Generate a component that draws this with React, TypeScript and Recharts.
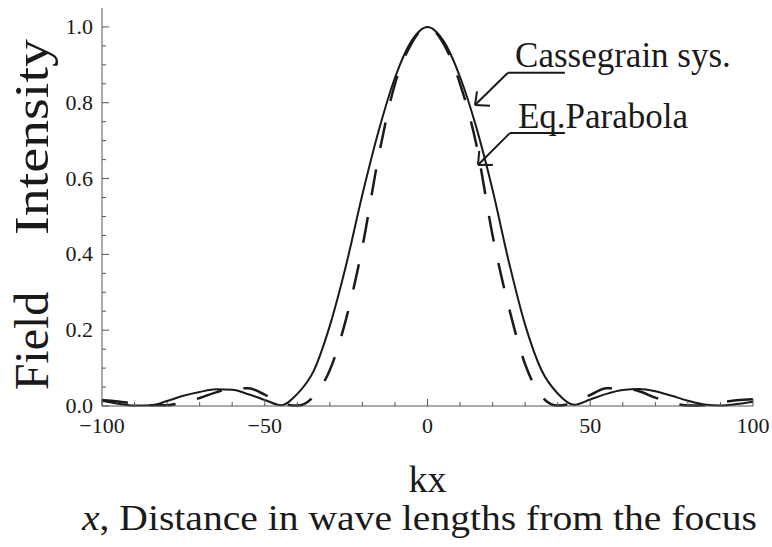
import React from "react";
import { LineChart, Line, XAxis, YAxis, ReferenceLine, ReferenceDot } from "recharts";

// kx positions, read every 5 units
const kx = [
  -100, -95, -90, -85, -80, -75, -70, -65, -60, -55, -50, -45, -40, -35, -30, -25, -20, -15, -10, -5,
  0, 5, 10, 15, 20, 25, 30, 35, 40, 45, 50, 55, 60, 65, 70, 75, 80, 85, 90, 95, 100,
];

// solid curve (Cassegrain sys.)
const cassegrain = [
  0.014, 0.006, 0.001, 0.002, 0.013, 0.027, 0.037, 0.044, 0.043, 0.031, 0.016, 0.002, 0.032, 0.092, 0.212, 0.372, 0.558, 0.726, 0.866, 0.962,
  1.0, 0.962, 0.868, 0.735, 0.57, 0.38, 0.214, 0.095, 0.033, 0.003, 0.017, 0.032, 0.042, 0.045, 0.039, 0.027, 0.014, 0.004, 0.001, 0.005, 0.011,
];

// dashed curve (Eq. Parabola)
const eqParabola = [
  0.016, 0.012, 0.006, 0.002, 0.002, 0.01, 0.021, 0.036, 0.047, 0.047, 0.03, 0.008, 0.001, 0.025, 0.095, 0.23, 0.42, 0.66, 0.85, 0.955,
  1.0, 0.955, 0.85, 0.69, 0.45, 0.26, 0.11, 0.026, 0.001, 0.009, 0.029, 0.047, 0.047, 0.039, 0.022, 0.009, 0.001, 0.002, 0.009, 0.015, 0.018,
];

const xTicks = [-100, -90, -80, -70, -60, -50, -40, -30, -20, -10, 0, 10, 20, 30, 40, 50, 60, 70, 80, 90, 100];
const xLabels = [-100, -50, 0, 50, 100];
const yTicks = [
  0, 0.05, 0.1, 0.15, 0.2, 0.25, 0.3, 0.35, 0.4, 0.45, 0.5, 0.55, 0.6, 0.65, 0.7, 0.75, 0.8, 0.85, 0.9, 0.95, 1.0,
];
const yLabels = [0, 0.2, 0.4, 0.6, 0.8, 1.0];

const rows = kx.map((x, i) => ({ x, cass: cassegrain[i], para: eqParabola[i] }));

const FONT = '"Liberation Serif", "Times New Roman", serif';
const INK = "#1a1a1a";
const FRAME = "#555";
const serif = { fontFamily: FONT };

const isMajor = (v: number, list: number[]) => list.some((l) => Math.abs(l - v) < 1e-6);
const fmtX = (v: number) => (v < 0 ? "\u2212" + Math.abs(v) : String(v));

function BottomTick({ x, y, payload }: any) {
  const major = isMajor(payload.value, xLabels);
  return (
    <g>
      <line x1={x} x2={x} y1={y} y2={y - (major ? 7 : 4)} stroke={FRAME} />
      {major && (
        <text x={x} y={y + 27} textAnchor="middle" style={serif} fontSize={22} fill={INK}>
          {fmtX(payload.value)}
        </text>
      )}
    </g>
  );
}

function TopTick({ x, y, payload }: any) {
  const major = isMajor(payload.value, xLabels);
  return <line x1={x} x2={x} y1={y} y2={y + (major ? 7 : 4)} stroke={FRAME} />;
}

function LeftTick({ x, y, payload }: any) {
  const major = isMajor(payload.value, yLabels);
  return (
    <g>
      <line x1={x} x2={x + (major ? 7 : 4)} y1={y} y2={y} stroke={FRAME} />
      {major && (
        <text x={x - 9} y={y + 7} textAnchor="end" style={serif} fontSize={22} fill={INK}>
          {payload.value.toFixed(1)}
        </text>
      )}
    </g>
  );
}

function RightTick({ x, y, payload }: any) {
  const major = isMajor(payload.value, yLabels);
  return <line x1={x} x2={x - (major ? 7 : 4)} y1={y} y2={y} stroke={FRAME} />;
}

function XTitle({ viewBox }: any) {
  const { x, y, width } = viewBox;
  return (
    <g style={serif} fill={INK}>
      <text x={x + width / 2} y={y + 86} textAnchor="middle" fontSize={38}>
        kx
      </text>
      <text x={x - 20} y={y + 124} fontSize={36} textLength={675} lengthAdjust="spacingAndGlyphs">
        <tspan fontStyle="italic">x</tspan>, Distance in wave lengths from the focus
      </text>
    </g>
  );
}

function YTitle() {
  return (
    <g style={serif} fill={INK} fontSize={48}>
      <text x={48} y={341} textAnchor="middle" transform="rotate(-90 48 341)">
        Field
      </text>
      <text
        x={48}
        y={137}
        textAnchor="middle"
        transform="rotate(-90 48 137)"
        textLength={196}
        lengthAdjust="spacingAndGlyphs"
      >
        Intensity
      </text>
    </g>
  );
}

const note = (label: string) => (p: any) =>
  (
    <text x={p.cx} y={p.cy} style={serif} fontSize={35} fill={INK}>
      {label}
    </text>
  );

export default function App() {
  return (
    <div style={{ position: "absolute", left: 0, top: 0, width: 772, height: 547, background: "#fff" }}>
      <LineChart width={772} height={547} data={rows} margin={{ top: 8, right: 19, bottom: 0, left: 0 }}>
        <XAxis
          dataKey="x"
          type="number"
          domain={[-100, 100]}
          ticks={xTicks}
          interval={0}
          height={141}
          tickSize={0}
          tickMargin={0}
          tickLine={false}
          axisLine={{ stroke: FRAME }}
          tick={<BottomTick />}
          label={<XTitle />}
        />
        <XAxis
          xAxisId="top"
          orientation="top"
          type="number"
          domain={[-100, 100]}
          ticks={xTicks}
          interval={0}
          height={0}
          tickSize={0}
          tickMargin={0}
          tickLine={false}
          axisLine={{ stroke: FRAME }}
          tick={<TopTick />}
        />
        <YAxis
          type="number"
          domain={[0, 1.05]}
          ticks={yTicks}
          interval={0}
          width={102}
          tickSize={0}
          tickMargin={0}
          tickLine={false}
          axisLine={{ stroke: FRAME }}
          tick={<LeftTick />}
          label={<YTitle />}
        />
        <YAxis
          yAxisId="right"
          orientation="right"
          type="number"
          domain={[0, 1.05]}
          ticks={yTicks}
          interval={0}
          width={0}
          tickSize={0}
          tickMargin={0}
          tickLine={false}
          axisLine={{ stroke: FRAME }}
          tick={<RightTick />}
        />

        <Line
          dataKey="cass"
          type="monotone"
          stroke={INK}
          strokeWidth={2}
          dot={false}
          isAnimationActive={false}
        />
        <Line
          dataKey="para"
          type="monotone"
          stroke={INK}
          strokeWidth={2.5}
          strokeDasharray="26 22"
          dot={false}
          isAnimationActive={false}
        />

        {/* annotation arrows */}
        <ReferenceLine segment={[{ x: 24.7, y: 0.879 }, { x: 42.2, y: 0.879 }]} stroke={INK} strokeWidth={2} />
        <ReferenceLine segment={[{ x: 24.7, y: 0.879 }, { x: 14.6, y: 0.794 }]} stroke={INK} strokeWidth={2} />
        <ReferenceLine segment={[{ x: 14.6, y: 0.794 }, { x: 19.2, y: 0.792 }]} stroke={INK} strokeWidth={2} />
        <ReferenceLine segment={[{ x: 14.6, y: 0.794 }, { x: 15.2, y: 0.83 }]} stroke={INK} strokeWidth={2} />
        <ReferenceLine segment={[{ x: 25.3, y: 0.72 }, { x: 42.2, y: 0.72 }]} stroke={INK} strokeWidth={2} />
        <ReferenceLine segment={[{ x: 25.3, y: 0.72 }, { x: 15.5, y: 0.636 }]} stroke={INK} strokeWidth={2} />
        <ReferenceLine segment={[{ x: 15.5, y: 0.636 }, { x: 20.1, y: 0.636 }]} stroke={INK} strokeWidth={2} />
        <ReferenceLine segment={[{ x: 15.5, y: 0.636 }, { x: 15.9, y: 0.673 }]} stroke={INK} strokeWidth={2} />
        <ReferenceDot x={26.9} y={0.894} r={0} shape={note("Cassegrain sys.")} />
        <ReferenceDot x={27.8} y={0.733} r={0} shape={note("Eq.Parabola")} />
      </LineChart>
    </div>
  );
}
